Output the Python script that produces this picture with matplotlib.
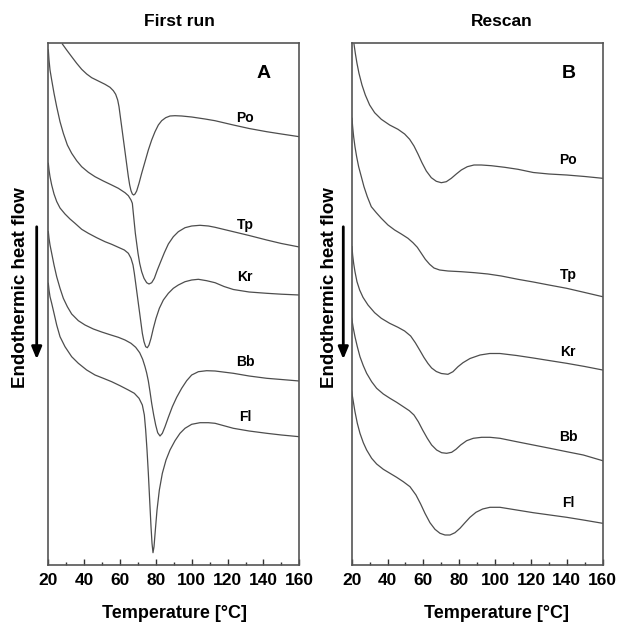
import matplotlib
matplotlib.use("Agg")
import matplotlib.pyplot as plt
from matplotlib.patches import FancyArrowPatch
from matplotlib.ticker import MultipleLocator

plt.rcParams['font.family'] = ['Liberation Sans', 'DejaVu Sans']
plt.rcParams['font.weight'] = 'bold'

# -------- First run (panel A): temperature [°C] / heat flow [a.u.] --------
t_po_a = [27.83, 30.24, 33.03, 35.82, 38.61, 41.40, 44.19, 47.91, 51.62, 54.41, 56.27, 57.57,
          58.69, 59.43, 60.17, 60.92, 61.66, 62.41, 63.15, 63.89, 64.64, 65.38, 66.12, 66.87,
          67.61, 68.36, 69.28, 70.59, 72.07, 73.93, 75.79, 77.65, 79.51, 81.37, 83.23, 85.46,
          87.87, 90.66, 94.38, 99.96, 107.4, 112.97, 123.2, 132, 141.8, 150, 160]
y_po_a = [52.1, 51.5, 50.83, 50.17, 49.57, 49.1, 48.73, 48.4, 48.07, 47.77, 47.43, 47.07,
          46.5, 45.83, 44.83, 43.83, 42.83, 41.83, 40.83, 39.83, 38.83, 38.0, 37.43, 37.1,
          37.0, 37.1, 37.4, 38.17, 39.17, 40.33, 41.5, 42.5, 43.33, 44.0, 44.43, 44.73,
          44.9, 44.93, 44.9, 44.8, 44.6, 44.43, 44.0, 43.65, 43.33, 43.1, 42.83]

t_tp_a = [20.0, 20.39, 20.95, 21.88, 23.18, 24.67, 26.53, 28.38, 30.62, 33.03, 35.82, 38.61,
          42.33, 46.05, 50.69, 55.34, 59.06, 62.78, 64.64, 66.12, 66.87, 67.42, 67.98, 68.54,
          69.28, 70.03, 70.96, 72.07, 73.37, 74.86, 76.16, 77.65, 79.14, 80.81, 82.67, 84.72,
          86.95, 89.73, 92.52, 96.24, 99.96, 104.6, 109.3, 113.0, 123.2, 132, 141.8, 150, 160]
y_tp_a = [51.5, 50.5, 49.5, 48.5, 47.17, 45.83, 44.33, 43.17, 42.0, 41.17, 40.43, 39.83,
          39.27, 38.83, 38.4, 38.0, 37.67, 37.23, 36.93, 36.5, 36.17, 35.17, 34.17, 33.17,
          32.17, 31.17, 30.17, 29.33, 28.67, 28.23, 28.1, 28.23, 28.67, 29.5, 30.33, 31.23,
          32.1, 32.83, 33.33, 33.73, 33.9, 33.97, 33.9, 33.77, 33.33, 32.95, 32.5, 32.15, 31.8]

t_kr_a = [20.0, 20.39, 20.95, 21.88, 23.18, 24.67, 26.53, 29.31, 32.1, 34.89, 38.61, 42.33,
          46.98, 51.62, 55.34, 59.06, 62.41, 64.64, 66.12, 67.24, 67.98, 68.73, 69.47, 70.21,
          70.96, 71.70, 72.44, 73.37, 74.30, 75.23, 76.16, 77.28, 78.58, 80.07, 81.93, 84.16,
          86.95, 89.73, 92.52, 96.24, 99.96, 103.68, 108.3, 113.0, 118, 123.2, 132, 141.8, 150, 160]
y_kr_a = [40.17, 39.5, 38.83, 38.0, 37.1, 36.35, 35.7, 35.1, 34.6, 34.17, 33.57, 33.17,
          32.73, 32.33, 32.07, 31.77, 31.5, 31.17, 30.67, 30.0, 29.17, 28.17, 27.17, 26.17,
          25.17, 24.17, 23.17, 22.33, 21.83, 21.73, 22.0, 22.67, 23.67, 24.67, 25.67, 26.5,
          27.17, 27.67, 28.0, 28.33, 28.5, 28.57, 28.43, 28.23, 27.85, 27.55, 27.3, 27.17, 27.08, 27.0]

t_bb_a = [20.0, 20.39, 20.95, 21.88, 23.18, 24.67, 26.53, 28.38, 30.62, 33.03, 36.75, 40.47,
          45.12, 49.76, 54.41, 59.06, 62.78, 66.12, 68.73, 70.96, 72.63, 73.93, 74.86, 75.79,
          76.72, 77.65, 78.77, 79.88, 81.0, 82.3, 83.6, 85.09, 86.95, 89.18, 91.59, 94.38,
          97.17, 99.96, 103.68, 108.3, 113.0, 123.2, 132, 141.8, 150, 160]
y_bb_a = [33.33, 32.67, 32.0, 31.17, 30.0, 28.83, 27.67, 26.67, 25.83, 25.1, 24.43, 24.0,
          23.6, 23.3, 23.03, 22.77, 22.5, 22.17, 21.77, 21.23, 20.57, 19.83, 19.2, 18.4,
          17.33, 16.17, 15.0, 14.0, 13.23, 12.9, 13.17, 13.83, 14.77, 15.83, 16.77, 17.67,
          18.43, 19.0, 19.33, 19.43, 19.4, 19.17, 18.9, 18.67, 18.55, 18.4]

t_fl_a = [20.0, 20.39, 20.95, 21.88, 23.18, 24.67, 26.53, 29.31, 33.03, 36.75, 41.4, 46.05,
          50.69, 55.34, 59.99, 64.64, 67.98, 70.59, 72.44, 73.56, 74.3, 75.05, 75.79, 76.53,
          77.28, 77.84, 78.39, 78.95, 79.7, 80.63, 81.93, 83.6, 85.65, 87.87, 90.66, 93.45,
          96.24, 99.96, 104.6, 109.3, 113.0, 123.2, 132, 141.8, 150, 160]
y_fl_a = [28.17, 27.5, 26.83, 26.17, 25.17, 24.0, 22.83, 21.83, 20.83, 20.17, 19.5, 19.0,
          18.67, 18.33, 17.93, 17.5, 17.17, 16.67, 16.0, 15.0, 13.5, 11.5, 9.17, 6.5,
          3.83, 2.17, 1.23, 1.83, 3.5, 5.5, 7.5, 9.17, 10.5, 11.5, 12.43, 13.17,
          13.67, 14.07, 14.23, 14.23, 14.17, 13.67, 13.4, 13.17, 13.0, 12.83]

# -------- Rescan (panel B) --------
t_po_b = [21.29, 22.03, 22.96, 24.07, 25.75, 27.61, 30.02, 32.81, 36.53, 41.18, 45.83, 49.54,
          52.33, 54.75, 56.98, 59.21, 61.63, 64.42, 67.21, 69.99, 72.78, 75.57, 78.36, 81.15,
          84.49, 88.21, 92.3, 97.88, 105.32, 112.75, 121.3, 130, 139.9, 150, 160]
y_po_b = [52.1, 51.17, 50.17, 49.17, 48.0, 47.0, 46.0, 45.23, 44.57, 44.0, 43.57, 43.1,
          42.57, 41.9, 41.1, 40.23, 39.4, 38.73, 38.37, 38.23, 38.33, 38.67, 39.1, 39.5,
          39.83, 40.0, 40.0, 39.93, 39.77, 39.57, 39.25, 39.1, 39.0, 38.85, 38.67]

t_tp_b = [20.17, 20.54, 21.1, 21.84, 22.77, 23.89, 25.38, 26.86, 28.72, 30.95, 33.74, 36.53,
          40.25, 43.97, 47.68, 51.4, 54.19, 56.61, 58.84, 61.07, 63.49, 65.9, 69.07, 73.71,
          81.15, 88.58, 96.02, 103.46, 112.75, 121.3, 130, 139.9, 150, 160]
y_tp_b = [44.67, 43.83, 42.83, 41.83, 40.83, 39.83, 38.83, 37.83, 36.83, 35.83, 35.23, 34.67,
          34.0, 33.5, 33.1, 32.67, 32.23, 31.77, 31.17, 30.57, 30.07, 29.7, 29.5, 29.4,
          29.33, 29.23, 29.1, 28.9, 28.57, 28.3, 28.0, 27.67, 27.25, 26.83]

t_kr_b = [20.17, 20.54, 21.1, 21.84, 22.96, 24.45, 26.31, 29.1, 32.81, 36.53, 41.18, 45.83,
          49.54, 52.89, 55.49, 57.91, 60.33, 62.56, 64.6, 67.2, 70.0, 73.71, 76.5, 79.29,
          82.08, 86.0, 91.6, 97.0, 102.7, 112.0, 121.3, 130, 139.9, 150, 160]
y_kr_b = [31.83, 31.0, 30.17, 29.33, 28.33, 27.5, 26.77, 26.0, 25.23, 24.67, 24.17, 23.77,
          23.4, 22.9, 22.23, 21.5, 20.75, 20.15, 19.7, 19.35, 19.15, 19.07, 19.33, 19.83,
          20.23, 20.65, 21.0, 21.15, 21.15, 20.95, 20.7, 20.45, 20.17, 19.85, 19.5]

t_bb_b = [20.0, 20.92, 21.84, 23.15, 24.63, 26.49, 28.35, 31.14, 33.93, 37.65, 41.36, 45.08,
          48.8, 52.15, 54.75, 57.17, 59.58, 62.19, 64.6, 67.39, 70.18, 72.97, 75.76, 78.17,
          80.78, 84.12, 87.84, 92.49, 97.14, 102.71, 112.01, 121.3, 130.6, 139.9, 149.2, 160]
y_bb_b = [24.67, 23.67, 22.83, 21.83, 20.83, 19.93, 19.17, 18.33, 17.67, 17.1, 16.67, 16.27,
          15.83, 15.43, 15.0, 14.33, 13.5, 12.67, 12.0, 11.5, 11.23, 11.17, 11.27, 11.57,
          12.0, 12.43, 12.67, 12.77, 12.77, 12.67, 12.33, 12.0, 11.67, 11.33, 11.0, 10.43]

t_fl_b = [20.0, 20.92, 21.84, 23.15, 24.63, 26.49, 28.35, 31.14, 33.93, 37.65, 41.36, 45.08,
          48.8, 52.52, 55.87, 58.47, 60.88, 63.67, 66.46, 69.25, 72.04, 74.83, 77.62, 80.41,
          83.2, 85.98, 89.33, 93.05, 97.14, 102.71, 112.01, 121.3, 130.6, 139.9, 149.2, 160]
y_fl_b = [17.33, 16.33, 15.33, 14.17, 13.17, 12.23, 11.5, 10.67, 10.1, 9.57, 9.17, 8.77,
          8.33, 7.83, 7.0, 6.1, 5.17, 4.23, 3.57, 3.17, 3.0, 3.0, 3.23, 3.67,
          4.23, 4.77, 5.27, 5.6, 5.77, 5.77, 5.5, 5.23, 5.0, 4.77, 4.5, 4.17]

samples = ['Po', 'Tp', 'Kr', 'Bb', 'Fl']
label_y_a = [44.7, 34.0, 28.8, 20.33, 14.83]
label_y_b = [40.5, 29.0, 21.3, 12.8, 6.2]

panel_a = [(t_po_a, y_po_a), (t_tp_a, y_tp_a), (t_kr_a, y_kr_a), (t_bb_a, y_bb_a), (t_fl_a, y_fl_a)]
panel_b = [(t_po_b, y_po_b), (t_tp_b, y_tp_b), (t_kr_b, y_kr_b), (t_bb_b, y_bb_b), (t_fl_b, y_fl_b)]

fig = plt.figure(figsize=(6.21, 6.25), dpi=100)
ax_a = fig.add_axes([0.0778, 0.096, 0.4042, 0.8352])
ax_b = fig.add_axes([0.5663, 0.096, 0.4042, 0.8352])

line_col = '#4d4d4d'
for ax, curves, label_x, label_y, letter, letter_x in [
        (ax_a, panel_a, 129.8, label_y_a, 'A', 139.9),
        (ax_b, panel_b, 140.6, label_y_b, 'B', 140.8)]:
    for (t, y), name, ly in zip(curves, samples, label_y):
        ax.plot(t, y, color=line_col, lw=0.9, solid_joinstyle='round')
        ax.text(label_x, ly, name, ha='center', va='center', fontsize=10, fontweight='bold')
    ax.text(letter_x, 49.2, letter, ha='center', va='center', fontsize=14, fontweight='bold')
    ax.set_xlim(20, 160)
    ax.set_ylim(0, 52.2)
    ax.set_yticks([])
    ax.xaxis.set_major_locator(MultipleLocator(20))
    ax.xaxis.set_minor_locator(MultipleLocator(10))
    ax.tick_params(axis='x', which='major', direction='in', length=4, width=1, pad=6,
                   labelsize=12.5, colors='#333333', labelcolor='black')
    ax.tick_params(axis='x', which='minor', direction='in', length=2, width=1, colors='#333333')
    for lbl in ax.get_xticklabels():
        lbl.set_fontweight('bold')
    for sp in ax.spines.values():
        sp.set_color('#555555')
        sp.set_linewidth(1.2)

# -------- Titles and axis labels --------
fig.text(0.2882, 0.9648, 'First run', ha='center', va='center', fontsize=12.5, fontweight='bold')
fig.text(0.8079, 0.9648, 'Rescan', ha='center', va='center', fontsize=12.5, fontweight='bold')
fig.text(0.2818, 0.0192, 'Temperature [°C]', ha='center', va='center', fontsize=13, fontweight='bold')
fig.text(0.800, 0.0192, 'Temperature [°C]', ha='center', va='center', fontsize=13, fontweight='bold')

for tx, arrow_x in [(0.033, 0.0591), (0.5298, 0.5528)]:
    fig.text(tx, 0.54, 'Endothermic heat flow', rotation=90, ha='center', va='center',
             fontsize=13.5, fontweight='bold')
    fig.add_artist(FancyArrowPatch(
        (arrow_x, 0.6416), (arrow_x, 0.4208), transform=fig.transFigure,
        arrowstyle='-|>,head_length=0.6,head_width=0.25', mutation_scale=12,
        lw=2, color='black'))

plt.savefig("out.png", dpi=100)
